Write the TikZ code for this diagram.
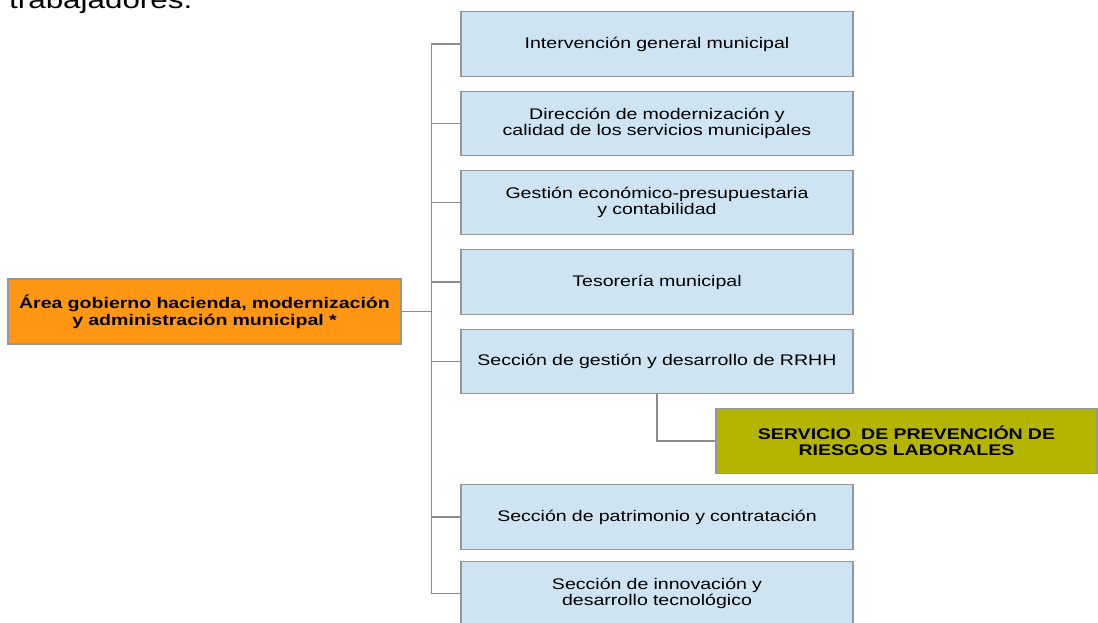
\documentclass[tikz,border=0pt]{standalone}
\usepackage{fontspec}
\setmainfont{Liberation Sans}[FakeStretch=1.27]
\definecolor{boxblue}{RGB}{207,228,243}
\definecolor{boxorange}{RGB}{255,150,20}
\definecolor{boxolive}{RGB}{181,181,0}
\definecolor{edgegray}{RGB}{150,150,150}
\definecolor{linegray}{RGB}{140,140,140}
\tikzset{
  unit/.style={draw=edgegray, line width=1.3pt, align=center, inner sep=2pt,
    font=\fontsize{15.4}{16.6}\selectfont},
  bluebox/.style={unit, fill=boxblue, minimum width=392pt, minimum height=64.5pt, text width=385pt},
  orgbox/.style={unit, fill=boxorange, minimum width=393pt, minimum height=65pt, text width=385pt, font=\fontsize{15.4}{16.6}\selectfont\bfseries},
  prlbox/.style={unit, fill=boxolive, minimum width=381pt, minimum height=64.5pt, text width=370pt, font=\fontsize{15.4}{16.2}\selectfont\bfseries},
  conn/.style={draw=linegray, line width=1.3pt}
}
\begin{document}
\begin{tikzpicture}[x=1pt,y=-1pt]
\useasboundingbox (0,0) rectangle (1098,622);
\clip (0,0) rectangle (1098,622);
\node[anchor=base west, inner sep=0pt, font=\fontsize{24.7}{28}\selectfont] (top) at (9,8) {trabajadores.};
\node[orgbox] (org) at (204.5,311.5) {Área gobierno hacienda, modernización\\ y administración municipal *};
\node[bluebox] (b1) at (657,44) {Intervención general municipal};
\node[bluebox] (b2) at (657,123.5) {Dirección de modernización y\\ calidad de los servicios municipales};
\node[bluebox] (b3) at (657,202.5) {Gestión económico-presupuestaria\\ y contabilidad};
\node[bluebox] (b4) at (657,282) {Tesorería municipal};
\node[bluebox] (b5) at (657,361.5) {Sección de gestión y desarrollo de RRHH};
\node[prlbox] (prl) at (906.5,441) {SERVICIO \ DE PREVENCIÓN DE\\ RIESGOS LABORALES};
\node[bluebox] (b6) at (657,517) {Sección de patrimonio y contratación};
\node[bluebox] (b7) at (657,593.5) {Sección de innovación y\\ desarrollo tecnológico};
\coordinate (t) at (431.5,0);
\draw[conn] (b1.west) -- (b1.west -| t) -- (b7.west -| t) -- (b7.west);
\draw[conn] (org.east) -- (org.east -| t);
\draw[conn] (b2.west) -- (b2.west -| t);
\draw[conn] (b3.west) -- (b3.west -| t);
\draw[conn] (b4.west) -- (b4.west -| t);
\draw[conn] (b5.west) -- (b5.west -| t);
\draw[conn] (b6.west) -- (b6.west -| t);
\draw[conn] (b5.south) |- (prl.west);
\end{tikzpicture}
\end{document}
